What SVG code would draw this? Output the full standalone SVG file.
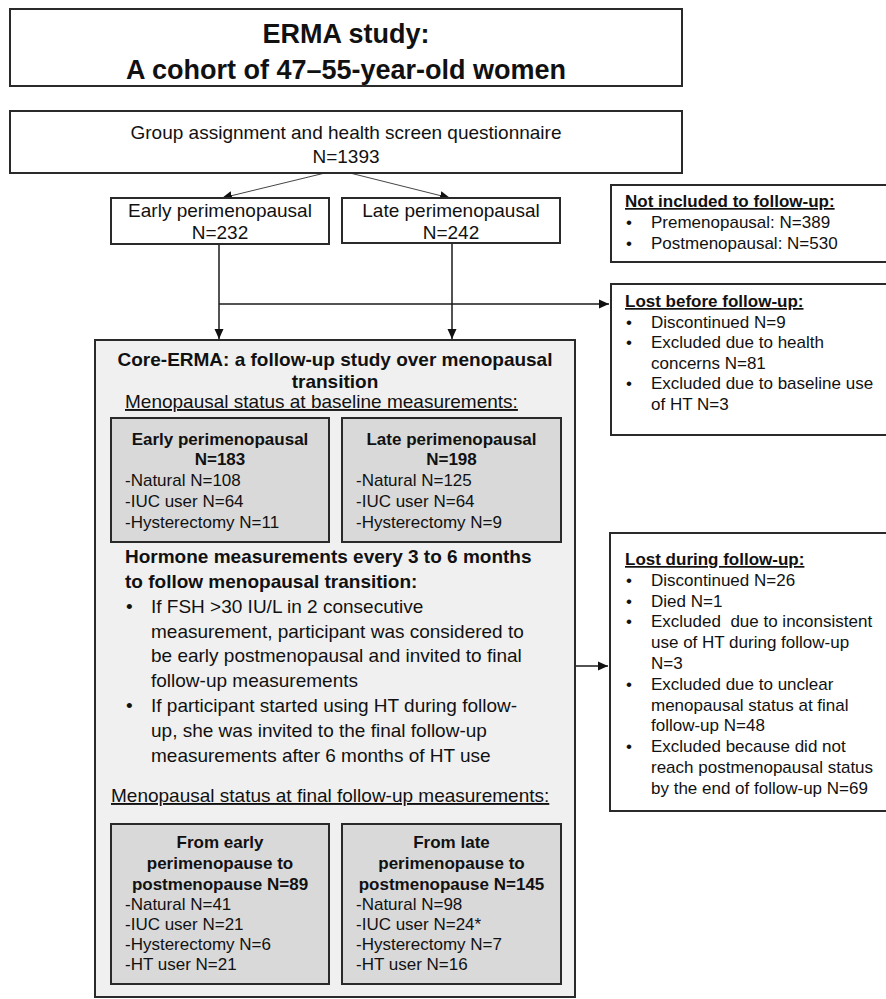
<svg xmlns="http://www.w3.org/2000/svg" width="886" height="999" viewBox="0 0 886 999">
<defs>
<style>
text{font-family:"Liberation Sans",Arial,sans-serif;fill:#111}
.box{fill:#fff;stroke:#2a2a2a;stroke-width:2}
.core{fill:#f0f0f0;stroke:#2a2a2a;stroke-width:2}
.inner{fill:#d9d9d9;stroke:#2a2a2a;stroke-width:2}
.t19{font-size:19px}
.t17{font-size:17px}
.b{font-weight:bold}
.c{text-anchor:middle}
.u{text-decoration:underline}
.title{font-size:27px;font-weight:bold;text-anchor:middle}
.ln{stroke:#1a1a1a;stroke-width:1.5;fill:none}
.thin{stroke:#444;stroke-width:1;fill:none}
</style>
<marker id="ah" viewBox="0 0 10 10" refX="10" refY="5" markerWidth="10" markerHeight="10" markerUnits="userSpaceOnUse" orient="auto">
<path d="M0,0.5 L10,5 L0,9.5 Z" fill="#111"/>
</marker>
</defs>

<g id="connectors">
<line class="thin" x1="325" y1="173" x2="222" y2="198" marker-end="url(#ah)"/>
<line class="thin" x1="350" y1="173" x2="450" y2="198" marker-end="url(#ah)"/>
<line class="ln" x1="219" y1="244" x2="219" y2="339" marker-end="url(#ah)"/>
<line class="ln" x1="452" y1="243" x2="452" y2="339" marker-end="url(#ah)"/>
<line class="ln" x1="219" y1="304" x2="609" y2="304" marker-end="url(#ah)"/>
<line class="ln" x1="575" y1="666" x2="608" y2="666" marker-end="url(#ah)"/>
</g>

<g id="title">
<rect class="box" x="10" y="9" width="672" height="77"/>
<text class="title" x="346" y="43">ERMA study:</text>
<text class="title" x="346" y="79">A cohort of 47–55-year-old women</text>
</g>

<g id="screen">
<rect class="box" x="10" y="111" width="672" height="62"/>
<text class="t19 c" x="346" y="139">Group assignment and health screen questionnaire</text>
<text class="t19 c" x="346" y="163">N=1393</text>
</g>

<g id="early">
<rect class="box" x="111" y="198" width="218" height="46"/>
<text class="t19 c" x="220" y="217">Early perimenopausal</text>
<text class="t19 c" x="220" y="239">N=232</text>
</g>

<g id="late">
<rect class="box" x="342" y="198" width="218" height="45"/>
<text class="t19 c" x="451" y="217">Late perimenopausal</text>
<text class="t19 c" x="451" y="239">N=242</text>
</g>

<g id="not-included">
<rect class="box" x="611" y="185" width="300" height="77"/>
<text class="t17 b u" x="625" y="207">Not included to follow-up:</text>
<text class="t17" x="626" y="228">•</text><text class="t17" x="651" y="228">Premenopausal: N=389</text>
<text class="t17" x="626" y="249">•</text><text class="t17" x="651" y="249">Postmenopausal: N=530</text>
</g>

<g id="lost-before">
<rect class="box" x="611" y="284" width="300" height="151"/>
<text class="t17 b u" x="625" y="307">Lost before follow-up:</text>
<text class="t17" x="626" y="327.5">•</text><text class="t17" x="651" y="327.5">Discontinued N=9</text>
<text class="t17" x="626" y="348">•</text><text class="t17" x="651" y="348">Excluded due to health</text>
<text class="t17" x="651" y="368.5">concerns N=81</text>
<text class="t17" x="626" y="389">•</text><text class="t17" x="651" y="389">Excluded due to baseline use</text>
<text class="t17" x="651" y="409.5">of HT N=3</text>
</g>

<g id="lost-during">
<rect class="box" x="610" y="533" width="300" height="278"/>
<text class="t17 b u" x="625" y="565">Lost during follow-up:</text>
<text class="t17" x="626" y="585.8">•</text><text class="t17" x="651" y="585.8">Discontinued N=26</text>
<text class="t17" x="626" y="606.6">•</text><text class="t17" x="651" y="606.6">Died N=1</text>
<text class="t17" x="626" y="627.4">•</text><text class="t17" x="651" y="627.4" xml:space="preserve">Excluded  due to inconsistent</text>
<text class="t17" x="651" y="648.2">use of HT during follow-up</text>
<text class="t17" x="651" y="669">N=3</text>
<text class="t17" x="626" y="689.8">•</text><text class="t17" x="651" y="689.8">Excluded due to unclear</text>
<text class="t17" x="651" y="710.6">menopausal status at final</text>
<text class="t17" x="651" y="731.4">follow-up N=48</text>
<text class="t17" x="626" y="752.2">•</text><text class="t17" x="651" y="752.2">Excluded because did not</text>
<text class="t17" x="651" y="773">reach postmenopausal status</text>
<text class="t17" x="651" y="793.8">by the end of follow-up N=69</text>
</g>

<g id="core-erma">
<rect class="core" x="95" y="340" width="480" height="657"/>
<text class="t19 b c" x="335" y="366">Core-ERMA: a follow-up study over menopausal</text>
<text class="t19 b c" x="335" y="388">transition</text>
<text class="t19 u" x="125" y="408">Menopausal status at baseline measurements:</text>
<text class="t19 b" x="125" y="563">Hormone measurements every 3 to 6 months</text>
<text class="t19 b" x="125" y="588">to follow menopausal transition:</text>
<text class="t19" x="126" y="613">•</text><text class="t19" x="151" y="613">If FSH &gt;30 IU/L in 2 consecutive</text>
<text class="t19" x="151" y="637.5">measurement, participant was considered to</text>
<text class="t19" x="151" y="662">be early postmenopausal and invited to final</text>
<text class="t19" x="151" y="687">follow-up measurements</text>
<text class="t19" x="126" y="712">•</text><text class="t19" x="151" y="712">If participant started using HT during follow-</text>
<text class="t19" x="151" y="737">up, she was invited to the final follow-up</text>
<text class="t19" x="151" y="762">measurements after 6 months of HT use</text>
<text class="t19 u" x="111" y="802">Menopausal status at final follow-up measurements:</text>
</g>

<g id="baseline-early">
<rect class="inner" x="111" y="418" width="218" height="124"/>
<text class="t17 b c" x="220" y="445">Early perimenopausal</text>
<text class="t17 b c" x="220" y="465">N=183</text>
<text class="t17" x="125" y="486">-Natural N=108</text>
<text class="t17" x="125" y="507">-IUC user N=64</text>
<text class="t17" x="125" y="528">-Hysterectomy N=11</text>
</g>

<g id="baseline-late">
<rect class="inner" x="342" y="418" width="219" height="124"/>
<text class="t17 b c" x="451.5" y="445">Late perimenopausal</text>
<text class="t17 b c" x="451.5" y="465">N=198</text>
<text class="t17" x="356" y="486">-Natural N=125</text>
<text class="t17" x="356" y="507">-IUC user N=64</text>
<text class="t17" x="356" y="528">-Hysterectomy N=9</text>
</g>

<g id="final-early">
<rect class="inner" x="111" y="824" width="218" height="160"/>
<text class="t17 b c" x="220" y="848">From early</text>
<text class="t17 b c" x="220" y="869">perimenopause to</text>
<text class="t17 b c" x="220" y="890">postmenopause N=89</text>
<text class="t17" x="125" y="910">-Natural N=41</text>
<text class="t17" x="125" y="930">-IUC user N=21</text>
<text class="t17" x="125" y="950">-Hysterectomy N=6</text>
<text class="t17" x="125" y="970">-HT user N=21</text>
</g>

<g id="final-late">
<rect class="inner" x="342" y="824" width="219" height="160"/>
<text class="t17 b c" x="451.5" y="848">From late</text>
<text class="t17 b c" x="451.5" y="869">perimenopause to</text>
<text class="t17 b c" x="451.5" y="890">postmenopause N=145</text>
<text class="t17" x="356" y="910">-Natural N=98</text>
<text class="t17" x="356" y="930">-IUC user N=24*</text>
<text class="t17" x="356" y="950">-Hysterectomy N=7</text>
<text class="t17" x="356" y="970">-HT user N=16</text>
</g>
</svg>
